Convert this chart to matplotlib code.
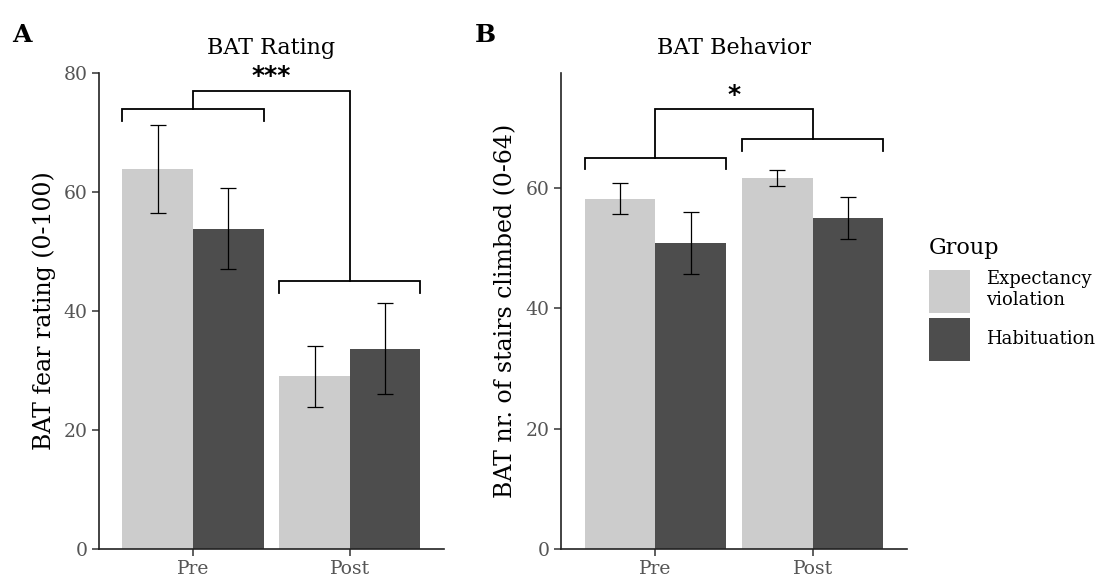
import numpy as np
import matplotlib.pyplot as plt
from matplotlib.patches import Patch

plt.rcParams['font.family'] = ['DejaVu Serif']

# data
times = ['Pre', 'Post']
groups = ['Expectancy\nviolation', 'Habituation']
colors = ['#cccccc', '#4d4d4d']

rating_mean = [[63.8, 29.0], [53.8, 33.7]]
rating_lo = [[56.5, 23.9], [47.1, 26.1]]
rating_hi = [[71.2, 34.1], [60.6, 41.3]]

behav_mean = [[58.2, 61.6], [50.9, 55.0]]
behav_lo = [[55.7, 60.3], [45.7, 51.5]]
behav_hi = [[60.9, 63.0], [56.0, 58.5]]

# brackets: y of pre / post group bracket, top bracket y, leg length, label
rating_br = {'pre': 74.0, 'post': 45.0, 'top': 77.0, 'leg': 2.0, 'label': '***'}
behav_br = {'pre': 65.0, 'post': 68.1, 'top': 73.1, 'leg': 1.9, 'label': '*'}

w = 0.45
x = np.array([1, 2])

fig = plt.figure(figsize=(11.02, 5.8), dpi=100)
axA = fig.add_axes([0.0898, 0.0534, 0.3131, 0.8207])
axB = fig.add_axes([0.509, 0.0534, 0.314, 0.8207])


def panel(ax, mean, lo, hi, br, ylim, yticks, title, ylabel):
    for g in range(2):
        xs = x + (g - 0.5) * w
        m = np.array(mean[g])
        ax.bar(xs, m, width=w, color=colors[g], edgecolor='none', zorder=1)
        err = [m - np.array(lo[g]), np.array(hi[g]) - m]
        ax.errorbar(xs, m, yerr=err, fmt='none', ecolor='black',
                    elinewidth=0.9, capsize=6, capthick=0.9, zorder=2)
    leg = br['leg']
    for xc, key in zip(x, ['pre', 'post']):
        yb = br[key]
        ax.plot([xc - w, xc - w, xc + w, xc + w], [yb - leg, yb, yb, yb - leg],
                color='black', lw=1.3, solid_joinstyle='miter', clip_on=False)
    ax.plot([x[0], x[0], x[1], x[1]],
            [br['pre'], br['top'], br['top'], br['post']],
            color='black', lw=1.3, solid_joinstyle='miter', clip_on=False)
    ax.text(x.mean(), br['top'] + 0.4, br['label'], ha='center', va='bottom',
            fontsize=18, fontfamily='DejaVu Sans', fontweight='bold')
    ax.set_xlim(0.4, 2.6)
    ax.set_ylim(*ylim)
    ax.set_xticks(x)
    ax.set_xticklabels(times)
    ax.set_yticks(yticks)
    ax.spines['top'].set_visible(False)
    ax.spines['right'].set_visible(False)
    for s in ['left', 'bottom']:
        ax.spines[s].set_linewidth(1.2)
        ax.spines[s].set_color('#222222')
    ax.tick_params(length=5, width=1.1, color='#333333', labelsize=13.5,
                   labelcolor='#555555', pad=3)
    ax.set_title(title, fontsize=16, pad=14)
    ax.set_ylabel(ylabel, fontsize=17, labelpad=6)


panel(axA, rating_mean, rating_lo, rating_hi, rating_br, (0, 80),
      [0, 20, 40, 60, 80], 'BAT Rating', 'BAT fear rating (0-100)')
panel(axB, behav_mean, behav_lo, behav_hi, behav_br, (0, 79.1),
      [0, 20, 40, 60], 'BAT Behavior', 'BAT nr. of stairs climbed (0-64)')

fig.text(0.011, 0.96, 'A', fontsize=18, fontweight='bold', va='top')
fig.text(0.431, 0.96, 'B', fontsize=18, fontweight='bold', va='top')

handles = [Patch(facecolor=c, edgecolor='none') for c in colors]
leg = fig.legend(handles, groups, title='Group', loc='upper left',
                 bbox_to_anchor=(0.833, 0.61), frameon=False, fontsize=13,
                 title_fontsize=16, handlelength=2.27, handleheight=3.29,
                 handletextpad=0.9, labelspacing=0.25, alignment='left',
                 borderaxespad=0.2)
leg._legend_box.sep = 8

fig.savefig('out.png', dpi=100)
